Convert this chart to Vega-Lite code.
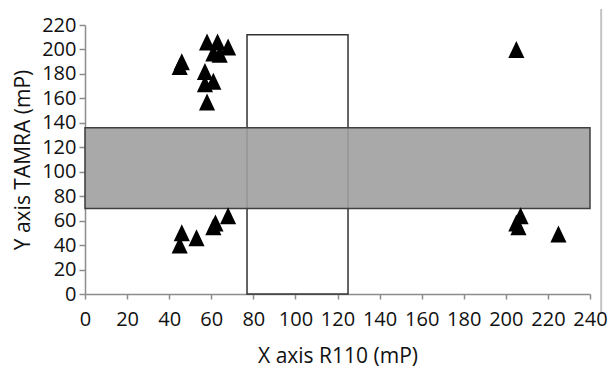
{
  "$schema": "https://vega.github.io/schema/vega-lite/v6.json",
  "autosize": "none",
  "width": 505,
  "height": 269,
  "padding": {"left": 85, "top": 25, "right": 20, "bottom": 82},
  "background": "white",
  "config": {
    "view": {"stroke": null},
    "font": "Open Sans",
    "axis": {
      "grid": false,
      "domainColor": "#8c8c8c",
      "domainWidth": 1.5,
      "tickColor": "#8c8c8c",
      "tickWidth": 1.5,
      "tickSize": 5,
      "labelColor": "#111111",
      "labelFontSize": 20,
      "labelFont": "Open Sans",
      "titleFont": "Open Sans",
      "titleFontSize": 21,
      "titleFontWeight": "normal",
      "titleColor": "#111111",
      "labelFlush": false,
      "labelOverlap": false
    }
  },
  "datasets": {
    "bands": [{"xa": 0, "xb": 240, "ya": 70, "yb": 136}],
    "boxes": [{"xa": 77, "xb": 125, "ya": 0, "yb": 212}],
    "frame": [{"xa": 245.3, "ya": -14.7, "yb": 233}],
    "points": [
      {"xa": 45, "ya": 186},
      {"xa": 46, "ya": 190},
      {"xa": 57, "ya": 182},
      {"xa": 57, "ya": 172},
      {"xa": 61, "ya": 174},
      {"xa": 58, "ya": 157},
      {"xa": 58, "ya": 206},
      {"xa": 63, "ya": 206},
      {"xa": 68, "ya": 202},
      {"xa": 64, "ya": 196},
      {"xa": 61, "ya": 197},
      {"xa": 45, "ya": 40},
      {"xa": 46, "ya": 50},
      {"xa": 53, "ya": 46},
      {"xa": 61, "ya": 55},
      {"xa": 62, "ya": 58},
      {"xa": 68, "ya": 64},
      {"xa": 207, "ya": 64},
      {"xa": 205, "ya": 58},
      {"xa": 206, "ya": 55},
      {"xa": 225, "ya": 49},
      {"xa": 205, "ya": 200}
    ]
  },
  "encoding": {
    "x": {"field": "xa", "type": "quantitative", "scale": {"domain": [0, 240], "nice": false},
      "axis": {"values": [0,20,40,60,80,100,120,140,160,180,200,220,240], "title": "X axis R110 (mP)", "labelPadding": 10, "titlePadding": 16, "labelOverlap": false}},
    "y": {"field": "ya", "type": "quantitative", "scale": {"domain": [0, 220], "nice": false},
      "axis": {"values": [0,20,40,60,80,100,120,140,160,180,200,220], "title": "Y axis TAMRA (mP)", "labelPadding": 3, "titlePadding": 8, "tickSize": 6, "labelOverlap": false}}
  },
  "layer": [
    {
      "data": {"name": "boxes"},
      "mark": {"type": "rect", "fill": "white", "stroke": "#333333", "strokeWidth": 1.5},
      "encoding": {
        "x2": {"field": "xb"},
        "y2": {"field": "yb"}
      }
    },
    {
      "data": {"name": "bands"},
      "mark": {"type": "rect", "fill": "#a0a0a0", "fillOpacity": 0.9, "stroke": "#404040", "strokeWidth": 1.5},
      "encoding": {
        "x2": {"field": "xb"},
        "y2": {"field": "yb"}
      }
    },
    {
      "data": {"name": "frame"},
      "mark": {"type": "rule", "color": "#c4c4c4", "strokeWidth": 2, "clip": false},
      "encoding": {
        "y2": {"field": "yb"}
      }
    },
    {
      "data": {"name": "points"},
      "mark": {"type": "point", "shape": "M0,-1L-0.95,1L0.95,1Z", "filled": true, "fill": "black", "opacity": 1, "size": 289},
      "encoding": {}
    }
  ]
}
